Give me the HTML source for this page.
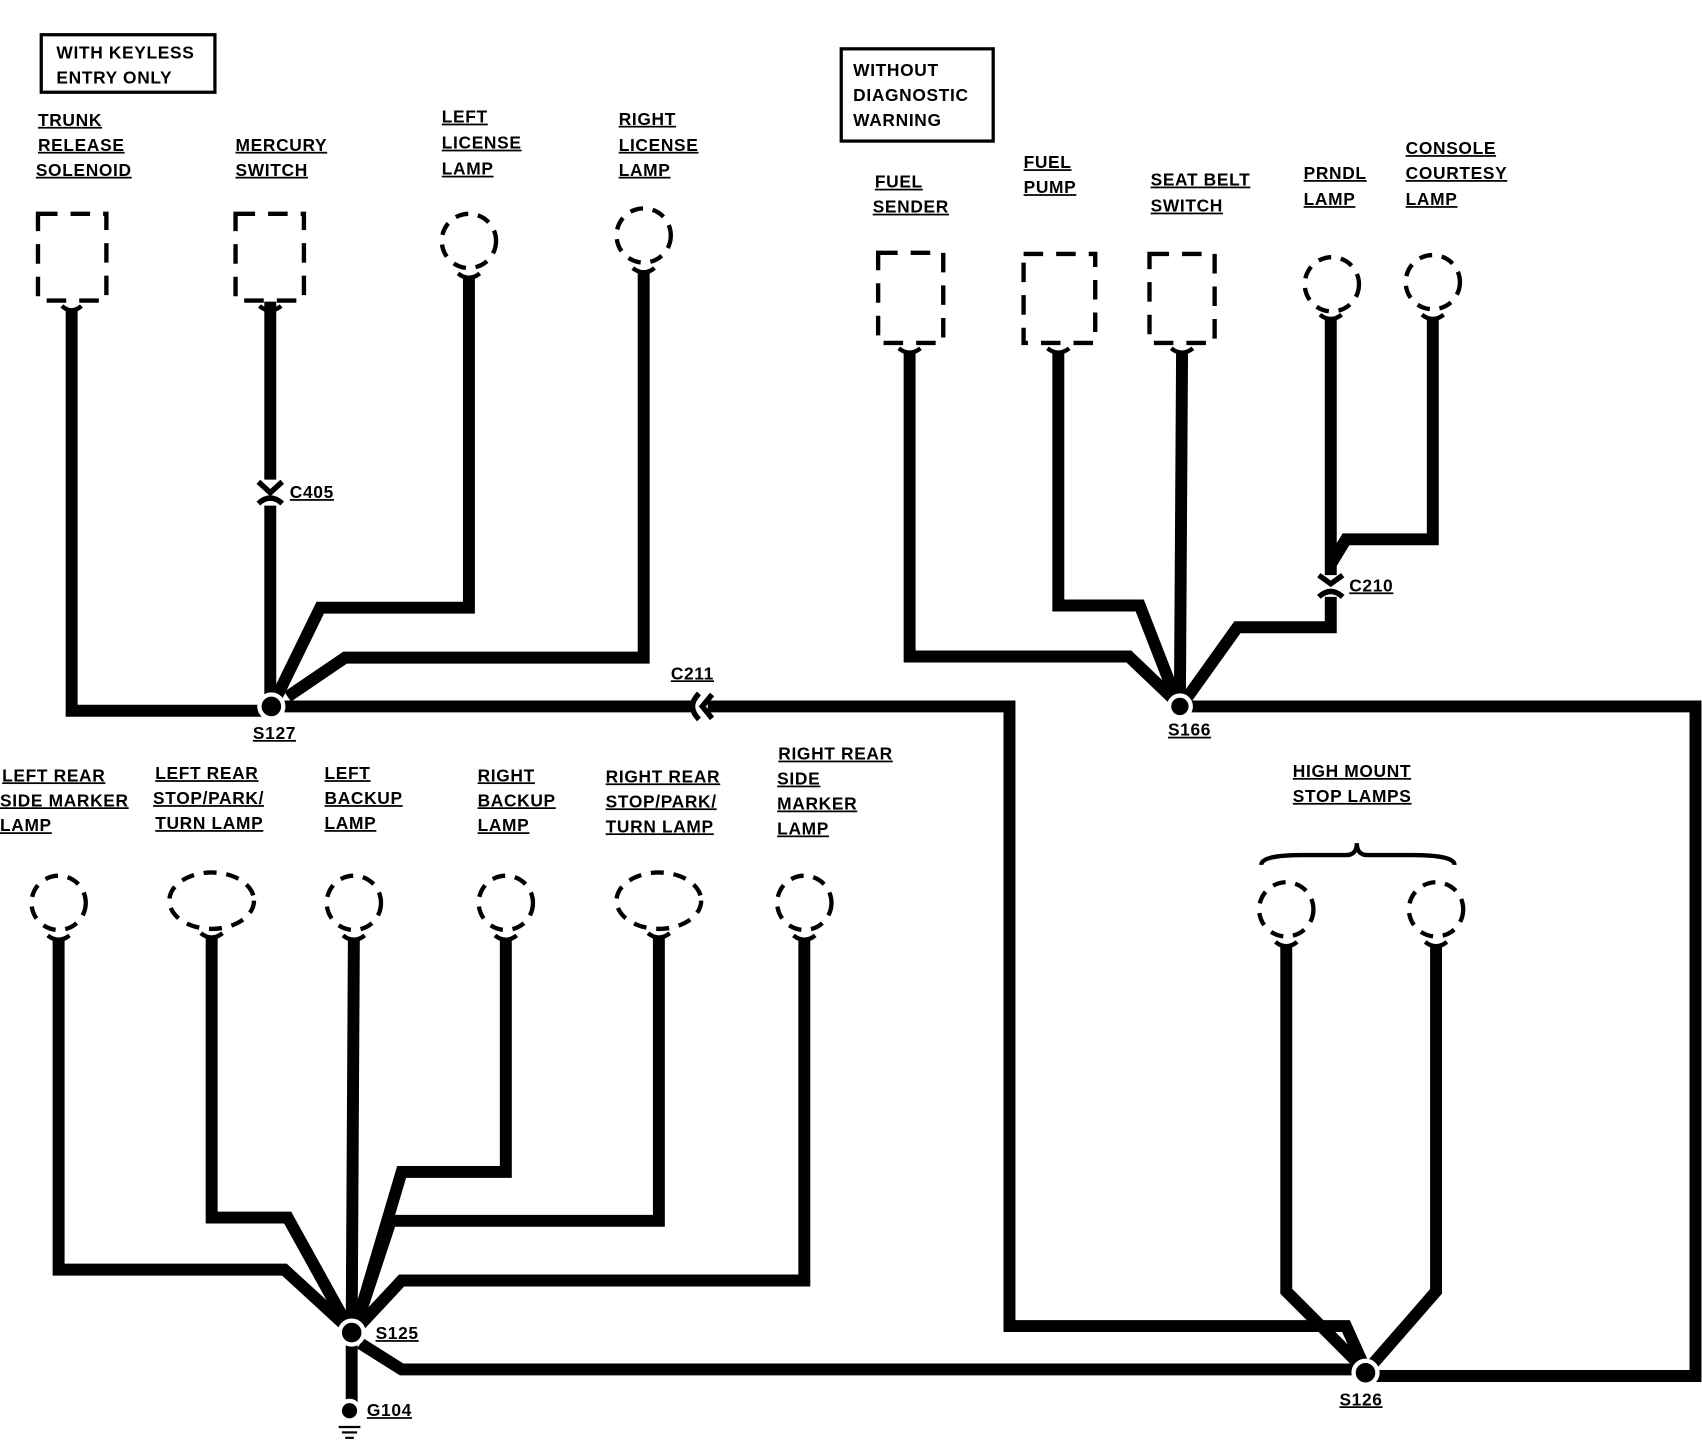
<!DOCTYPE html>
<html><head><meta charset="utf-8"><style>
html,body{margin:0;padding:0;background:#fff;}
svg{display:block}
text{font-family:"Liberation Sans",sans-serif;font-weight:bold;font-size:16px;fill:#000;text-decoration:underline;letter-spacing:0.6px;}
.n{text-decoration:none}
</style></head><body>
<svg width="1702" height="1440" viewBox="0 0 1568 1327" preserveAspectRatio="none" xmlns="http://www.w3.org/2000/svg">
<rect width="1568" height="1327" fill="#fff"/>
<g fill="none" stroke="#000" stroke-width="3">
<rect x="38" y="32" width="160" height="53"/>
<rect x="775" y="45" width="140" height="85"/>
</g>
<g font-size="16">
<text x="52" y="54" class="n">WITH KEYLESS</text><text x="52" y="77" class="n">ENTRY ONLY</text>
<text x="786" y="70" class="n">WITHOUT</text><text x="786" y="93" class="n">DIAGNOSTIC</text><text x="786" y="116" class="n">WARNING</text>
<text x="35" y="116">TRUNK</text><text x="35" y="139">RELEASE</text><text x="33" y="162">SOLENOID</text>
<text x="217" y="139">MERCURY</text><text x="217" y="162">SWITCH</text>
<text x="407" y="113">LEFT</text><text x="407" y="137">LICENSE</text><text x="407" y="161">LAMP</text>
<text x="570" y="115">RIGHT</text><text x="570" y="139">LICENSE</text><text x="570" y="162">LAMP</text>
<text x="806" y="173">FUEL</text><text x="804" y="196">SENDER</text>
<text x="943" y="155">FUEL</text><text x="943" y="178">PUMP</text>
<text x="1060" y="171">SEAT BELT</text><text x="1060" y="195">SWITCH</text>
<text x="1201" y="165">PRNDL</text><text x="1201" y="189">LAMP</text>
<text x="1295" y="142">CONSOLE</text><text x="1295" y="165">COURTESY</text><text x="1295" y="189">LAMP</text>
<text x="2" y="720">LEFT REAR</text><text x="0" y="743">SIDE MARKER</text><text x="0" y="766">LAMP</text>
<text x="143" y="718">LEFT REAR</text><text x="141" y="741">STOP/PARK/</text><text x="143" y="764">TURN LAMP</text>
<text x="299" y="718">LEFT</text><text x="299" y="741">BACKUP</text><text x="299" y="764">LAMP</text>
<text x="440" y="720">RIGHT</text><text x="440" y="743">BACKUP</text><text x="440" y="766">LAMP</text>
<text x="558" y="721">RIGHT REAR</text><text x="558" y="744">STOP/PARK/</text><text x="558" y="767">TURN LAMP</text>
<text x="717" y="700">RIGHT REAR</text><text x="716" y="723">SIDE</text><text x="716" y="746">MARKER</text><text x="716" y="769">LAMP</text>
<text x="1191" y="716">HIGH MOUNT</text><text x="1191" y="739">STOP LAMPS</text>
<text x="267" y="459">C405</text><text x="618" y="626">C211</text><text x="1243" y="545">C210</text>
<text x="233" y="681">S127</text><text x="1076" y="678">S166</text><text x="346" y="1234">S125</text><text x="1234" y="1295">S126</text><text x="338" y="1305">G104</text>
</g>
<g fill="none" stroke="#000" stroke-width="4" stroke-dasharray="18,12">
<rect x="35" y="197" width="63" height="80"/>
<rect x="217" y="197" width="63" height="80"/>
<rect x="809" y="233" width="60" height="83"/>
<rect x="943" y="234" width="66" height="82"/>
<rect x="1059" y="234" width="60" height="82"/>
</g>
<g fill="none" stroke="#000" stroke-width="4" stroke-dasharray="12,9">
<circle cx="432" cy="222" r="25"/><circle cx="593" cy="217" r="25"/>
<circle cx="1227" cy="262" r="25"/><circle cx="1320" cy="260" r="25"/>
<circle cx="54" cy="832" r="25"/><ellipse cx="195" cy="830" rx="39" ry="26"/>
<circle cx="326" cy="832" r="25"/><circle cx="466" cy="832" r="25"/>
<ellipse cx="607" cy="830" rx="39" ry="26"/><circle cx="741" cy="832" r="25"/>
<circle cx="1185" cy="838" r="25"/><circle cx="1323" cy="838" r="25"/>
</g>
<!-- cups -->
<g fill="none" stroke="#000" stroke-width="4">
<path d="M57 282 Q66 290 75 282"/><path d="M239 282 Q249 290 259 282"/>
<path d="M828 321 Q838 329 848 321"/><path d="M965 321 Q975 329 985 321"/><path d="M1079 321 Q1089 329 1099 321"/>
<path d="M422 252 Q432 260 442 252"/><path d="M583 247 Q593 255 603 247"/>
<path d="M1216 290 Q1226 298 1236 290"/><path d="M1310 290 Q1320 298 1330 290"/>
<path d="M44 862 Q54 870 64 862"/><path d="M185 860 Q195 868 205 860"/><path d="M316 862 Q326 870 336 862"/>
<path d="M456 862 Q466 870 476 862"/><path d="M597 860 Q607 868 617 860"/><path d="M731 862 Q741 870 751 862"/>
<path d="M1175 868 Q1185 876 1195 868"/><path d="M1313 868 Q1323 876 1333 868"/>
</g>
<path d="M1162 797 Q1162 788 1200 788 L1240 788 Q1250 788 1250 777 Q1250 788 1260 788 L1300 788 Q1340 788 1340 797" fill="none" stroke="#000" stroke-width="4"/>
<g fill="none" stroke="#000" stroke-width="11" stroke-linejoin="miter">
<path d="M66 286 V655 H250"/>
<path d="M249 278 V442"/><path d="M249 466 V650"/>
<path d="M432 256 V560 H295 L255 642"/>
<path d="M593 251 V606 H318 L265 642"/>
<path d="M262 651 H638"/><path d="M652 651 H930 V1222 H1240 L1258 1262"/>
<path d="M838 325 V605 H1040 L1085 648"/>
<path d="M975 325 V558 H1050 L1085 648"/>
<path d="M1089 325 L1087 648"/>
<path d="M1226 294 V530"/><path d="M1226 550 V578 H1140 L1090 648"/>
<path d="M1320 294 V497 H1240 L1226 520"/>
<path d="M1092 651 H1562 V1268 H1265"/>
<path d="M54 866 V1170 H262 L322 1225"/>
<path d="M195 864 V1122 H265 L322 1225"/>
<path d="M326 866 L324 1225"/>
<path d="M466 866 V1080 H370 L328 1222"/>
<path d="M607 864 V1125 H360 L328 1222"/>
<path d="M741 866 V1180 H370 L328 1225"/>
<path d="M332 1238 L370 1262 H1250"/>
<path d="M324 1230 V1298"/>
<path d="M1185 872 V1190 L1255 1260"/>
<path d="M1323 872 V1190 L1262 1260"/>
</g>
<g fill="#000" stroke="#fff" stroke-width="4">
<circle cx="250" cy="651" r="11"/><circle cx="1087" cy="651" r="10"/>
<circle cx="324" cy="1228" r="11"/><circle cx="1258" cy="1265" r="11"/>
<circle cx="322" cy="1300" r="9"/>
</g>
<g stroke="#000" stroke-width="2"><line x1="312" y1="1315" x2="332" y2="1315"/><line x1="315" y1="1320" x2="329" y2="1320"/><line x1="318" y1="1325" x2="326" y2="1325"/></g>
<g fill="none" stroke="#000" stroke-width="5">
<path d="M238 444 L249 454 L260 444"/><path d="M238 464 Q249 454 260 464"/>
<path d="M1215 530 L1226 538 L1237 530"/><path d="M1215 550 Q1226 540 1237 550"/>
<path d="M644 639 Q632 651 644 663"/><path d="M656 640 L647 651 L656 662"/>
</g>
</svg>
</body></html>
